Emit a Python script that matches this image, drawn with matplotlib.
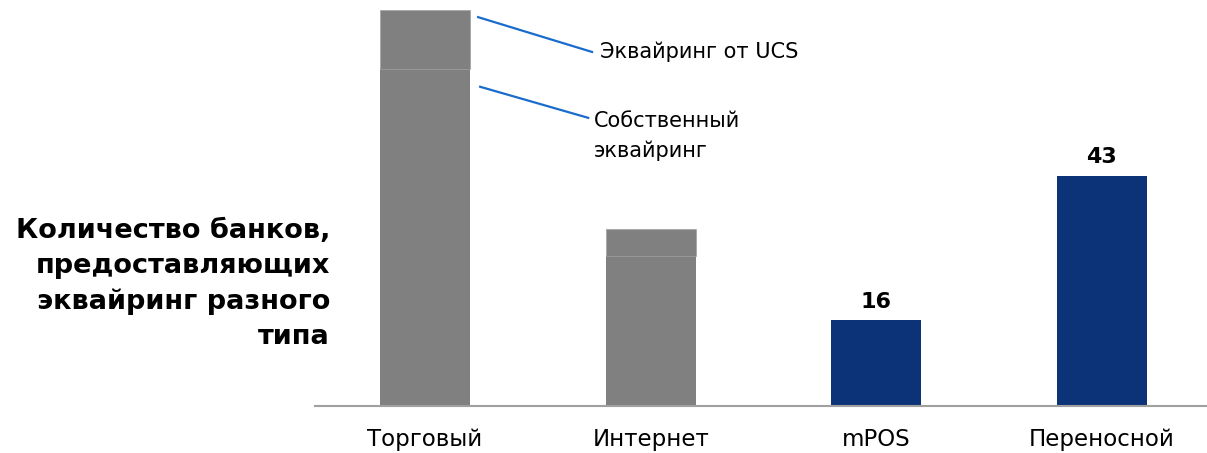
import matplotlib.pyplot as plt
import numpy as np

plt.rcParams['font.family'] = ['DejaVu Sans']

categories = ['Торговый', 'Интернет', 'mPOS', 'Переносной']
own_acquiring = [63, 28, 0, 0]
ucs_acquiring = [11, 5, 0, 0]
navy_values = [0, 0, 16, 43]

gray = '#808080'
navy = '#0c3278'
blue = '#1a6ccc'

fig = plt.figure(figsize=(12.07, 4.53), dpi=100)
ax = fig.add_axes([315/1207, 47/453, 892/1207, 406/453])
x = np.arange(len(categories))
w = 0.4

for i in range(len(categories)):
    if own_acquiring[i] > 0:
        ax.bar(x[i], own_acquiring[i], w, color=gray, edgecolor='none')
        ax.bar(x[i], ucs_acquiring[i], w, bottom=own_acquiring[i], color=gray,
               edgecolor='#a2a2a2', linewidth=0.5)
    if navy_values[i] > 0:
        ax.bar(x[i], navy_values[i], w, color=navy, edgecolor='none')
        ax.annotate(str(navy_values[i]), (x[i], navy_values[i]), xytext=(0, 6),
                    textcoords='offset points', ha='center', va='bottom',
                    fontsize=16, fontweight='bold')

ax.set_xlim(-0.488, 3.466)
ax.set_ylim(0, 75.8)
for s in ['top', 'right', 'left']:
    ax.spines[s].set_visible(False)
ax.spines['bottom'].set_color('#a0a0a0')
ax.spines['bottom'].set_linewidth(1.5)
ax.set_yticks([])
ax.set_xticks(x)
ax.set_xticklabels(categories, fontsize=16.5)
ax.tick_params(axis='x', length=0, pad=16)

# callouts
ax.plot([0.235, 0.740], [72.6, 66.1], color=blue, lw=1.6, clip_on=False)
ax.text(0.776, 66.1, 'Эквайринг от UCS', fontsize=15, ha='left', va='center')
ax.plot([0.244, 0.723], [59.6, 53.8], color=blue, lw=1.6, clip_on=False)
ax.text(0.749, 50.4, 'Собственный\nэквайринг', fontsize=15, ha='left', va='center',
        linespacing=1.55)

fig.text(330/1207, 1 - 284/453, 'Количество банков,\nпредоставляющих\nэквайринг разного\nтипа',
         ha='right', va='center', multialignment='right', fontsize=19.5,
         fontweight='bold', linespacing=1.45)

fig.savefig('out.png', dpi=100)
